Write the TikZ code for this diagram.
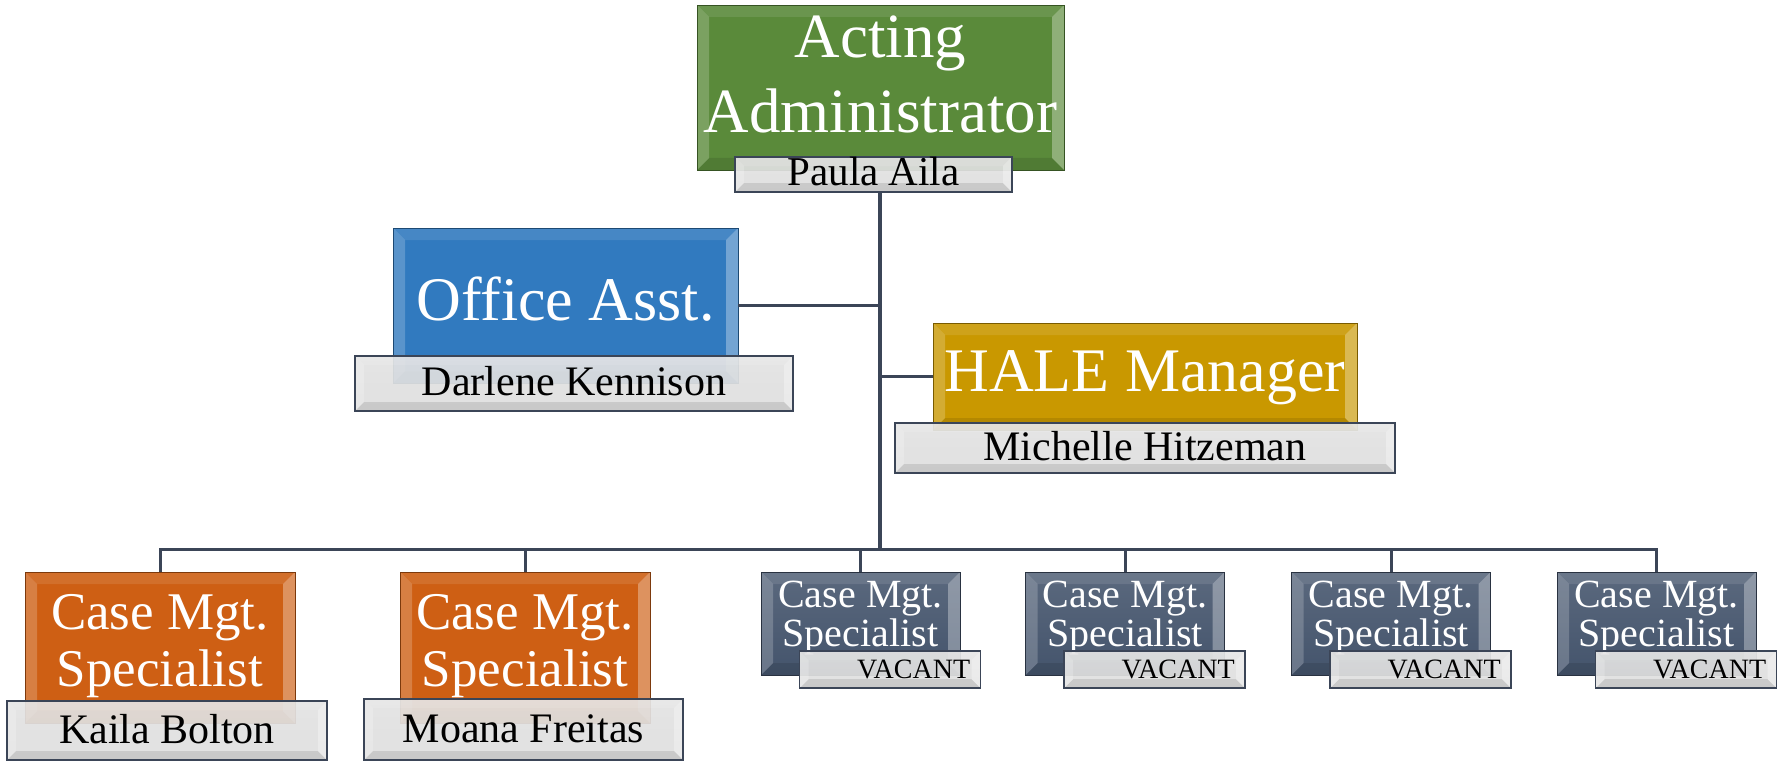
\documentclass[tikz,border=0pt]{standalone}
\usepackage{fontspec}
\setmainfont{Liberation Serif}

\definecolor{admgreen}{RGB}{90,138,58}
\definecolor{asstblue}{RGB}{49,122,191}
\definecolor{halegold}{RGB}{201,152,0}
\definecolor{caseorange}{RGB}{206,95,20}
\definecolor{vacslate}{RGB}{68,84,108}
\definecolor{linecol}{RGB}{59,69,87}

% bevelled edges of a box
\newcommand{\bevelsides}[1]{%
  \coordinate (bNW) at (path picture bounding box.north west);
  \coordinate (bNE) at (path picture bounding box.north east);
  \coordinate (bSW) at (path picture bounding box.south west);
  \coordinate (bSE) at (path picture bounding box.south east);
  \fill[white,opacity=.10] (bNW) -- (bNE) -- ([shift={(-#1,-#1)}]bNE) -- ([shift={(#1,-#1)}]bNW) -- cycle;
  \fill[black,opacity=.10] (bSW) -- (bSE) -- ([shift={(-#1,#1)}]bSE) -- ([shift={(#1,#1)}]bSW) -- cycle;
  \fill[white,opacity=.20] (bNW) -- ([shift={(#1,-#1)}]bNW) -- ([shift={(#1,#1)}]bSW) -- (bSW) -- cycle;
  \fill[white,opacity=.32] (bNE) -- ([shift={(-#1,-#1)}]bNE) -- ([shift={(-#1,#1)}]bSE) -- (bSE) -- cycle;
}

\tikzset{
  bevel/.style={path picture={\bevelsides{#1}}}, bevel/.default=12pt,
  post/.style={rectangle, inner sep=0pt, draw=#1!60!black, line width=.8pt,
    fill=#1, text=white, align=center, bevel},
  namebox/.style={rectangle, inner sep=0pt, draw=linecol, line width=1.6pt,
    top color=black!11, middle color=black!3, bottom color=black!13,
    fill opacity=.92, text opacity=1, text=black, bevel=9pt},
}
\tikzstyle{orgline} = [draw=linecol, line width=3pt]
\tikzstyle{mainline} = [draw=linecol, line width=4pt]
\tikzstyle{casepost} = [post=caseorange, minimum height=151pt,
    font=\fontsize{53}{57}\selectfont, text depth=14pt]
\tikzstyle{vacpost} = [post=vacslate, top color=vacslate!88!white, bottom color=vacslate,
    minimum width=199pt, minimum height=103pt,
    font=\fontsize{40}{39}\selectfont, text depth=19pt]
\tikzstyle{personname} = [namebox, font=\fontsize{42}{48}\selectfont]
\tikzstyle{vacname} = [namebox, anchor=north east, minimum height=37pt,
    text width=160pt, align=right, inner xsep=10.5pt,
    font=\fontsize{28}{32}\selectfont]

\begin{document}
\begin{tikzpicture}[x=1pt, y=-1pt]
\useasboundingbox (0,0) rectangle (1785,762);

% top of the chart
\node[post=admgreen, minimum width=367pt, minimum height=165pt,
    font=\fontsize{63}{75}\selectfont, text depth=27pt] (adm) at (880.5,87.5)
    {Acting\\Administrator};
\node[personname, minimum width=277pt, minimum height=35pt,
    font=\fontsize{41}{45}\selectfont, text depth=7pt] (paula) at (873.5,174.5)
    {Paula Aila};

% assistant and manager
\node[post=asstblue, minimum width=345pt, minimum height=155pt,
    font=\fontsize{62}{72}\selectfont, text depth=13pt] (off) at (565.5,305.5)
    {Office Asst.};
\node[personname, minimum width=438pt, minimum height=55pt, text depth=5.7pt]
    (darlene) at (574,383.5) {Darlene Kennison};

\node[post=halegold, minimum width=424pt, minimum height=107pt,
    font=\fontsize{62}{72}\selectfont, text depth=10pt] (hale) at (1145,376.5)
    {HALE Manager};
\node[personname, minimum width=500pt, minimum height=50pt, text depth=4.7pt]
    (michelle) at (1145,448) {Michelle Hitzeman};

% case management specialists
\node[casepost, minimum width=270pt] (c1) at (160,647.5) {Case Mgt.\\Specialist};
\node[personname, minimum width=320pt, minimum height=59pt, text depth=3.7pt]
    (kaila) at (167,730.5) {Kaila Bolton};

\node[casepost, minimum width=250pt] (c2) at (525,647.5) {Case Mgt.\\Specialist};
\node[personname, minimum width=319pt, minimum height=61pt, text depth=2pt]
    (moana) at (523.5,729.5) {Moana Freitas};

\node[vacpost] (v1) at (860.5,623.5) {Case Mgt.\\Specialist};
\node[vacname] (vn1) at ([shift={(21pt,25pt)}]v1.south east) {VACANT};

\node[vacpost] (v2) at (1125,623.5) {Case Mgt.\\Specialist};
\node[vacname] (vn2) at ([shift={(21pt,25pt)}]v2.south east) {VACANT};

\node[vacpost] (v3) at (1391,623.5) {Case Mgt.\\Specialist};
\node[vacname] (vn3) at ([shift={(21pt,25pt)}]v3.south east) {VACANT};

\node[vacpost] (v4) at (1656.5,623.5) {Case Mgt.\\Specialist};
\node[vacname] (vn4) at ([shift={(21pt,25pt)}]v4.south east) {VACANT};

% connectors
\coordinate (hub) at (880,549);
\draw[mainline] (paula.south -| hub) -- (hub);
\draw[orgline] (off.east) -- (off.east -| hub);
\draw[orgline] (hale.west -| hub) -- (hale.west);
\draw[orgline] (c1.north) -- (c1.north |- hub) -- (v4.north |- hub) -- (v4.north);
\draw[orgline] (c2.north) -- (c2.north |- hub);
\draw[orgline] (v1.north) -- (v1.north |- hub);
\draw[orgline] (v2.north) -- (v2.north |- hub);
\draw[orgline] (v3.north) -- (v3.north |- hub);
\end{tikzpicture}
\end{document}
